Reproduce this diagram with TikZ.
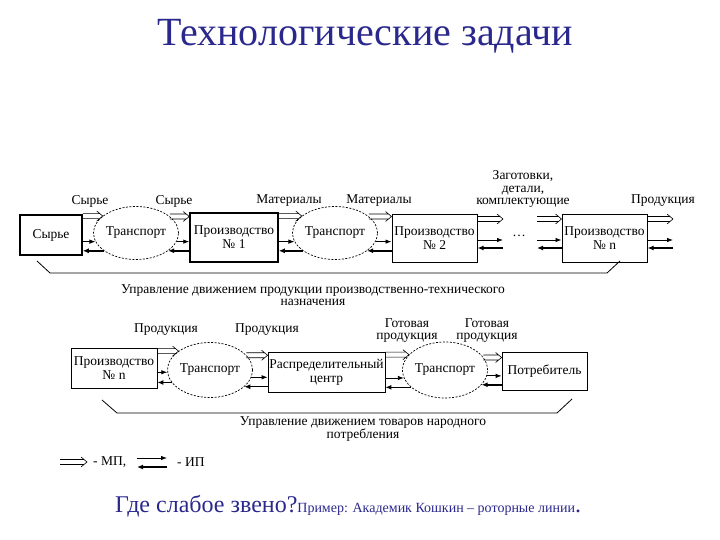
\documentclass[tikz,border=0pt]{standalone}
\usepackage{fontspec}
\setmainfont{Liberation Serif}
\usetikzlibrary{arrows.meta,shapes.geometric}
\definecolor{titleblue}{RGB}{42,40,140}
\tikzset{
  box/.style={draw, line width=0.8pt, align=center, inner sep=1pt, font=\fontsize{13.5}{14}\selectfont},
  tbox/.style={box, line width=1.5pt},
  tr/.style={ellipse, draw, dash pattern=on 2pt off 1.5pt, line width=0.7pt, inner sep=0pt, font=\fontsize{13.5}{14}\selectfont},
  lbl/.style={align=center, inner sep=0pt, font=\fontsize{13.5}{13}\selectfont},
  mp/.style={line width=0.6pt, line join=miter, to path={
     ([yshift=2.5pt]\tikztostart) -- ([yshift=2.5pt,xshift=-3pt]\tikztotarget)
     ([yshift=-2.5pt]\tikztostart) -- ([yshift=-2.5pt,xshift=-3pt]\tikztotarget)
     ([xshift=-6pt,yshift=5pt]\tikztotarget) -- (\tikztotarget) -- ([xshift=-6pt,yshift=-5pt]\tikztotarget)}},
  ipr/.style={line width=0.8pt, -{Latex[length=6pt,width=4.5pt]}},
  ipl/.style={line width=1.5pt, -{Latex[length=6pt,width=5pt]}},
}
\begin{document}
\begin{tikzpicture}[x=1pt,y=-1pt]
\useasboundingbox (0,0) rectangle (720,540);
% title
\node[anchor=base, text=titleblue, font=\fontsize{40}{42}\selectfont, inner sep=0pt] (title) at (365,46) {Технологические задачи};

% ---------- top row ----------
\node[tbox, minimum width=62pt, minimum height=40pt] (s0) at (51,235) {Сырье};
\node[tr, minimum width=66pt, minimum height=53pt] (t1) at (136,233) {Транспорт};
\node[tbox, minimum width=88pt, minimum height=49pt] (p1) at (234,237.5) {Производство\\№ 1};
\node[tr, minimum width=66pt, minimum height=53pt] (t2) at (335,233) {Транспорт};
\node[box, line width=1pt, minimum width=85pt, minimum height=47pt] (p2) at (434.5,238.5) {Производство\\№ 2};
\node[lbl] (dots) at (519,236) {\dots};
\node[box, line width=1pt, minimum width=85pt, minimum height=47pt] (pn) at (604.5,238.5) {Производство\\№ n};

\coordinate (ra) at (0,219);
\coordinate (rb) at (0,240);
\coordinate (rc) at (0,248);
\coordinate (dl) at (503,0);
\coordinate (dr) at (537,0);
\coordinate (out) at (673,0);

% s0 -> t1
\draw[mp] (s0.east |- t1.153.4) to (t1.153.4);
\draw[ipr] (s0.east |- t1.192.4) -- (t1.192.4);
\draw[ipl] (t1.209) -- (s0.east |- t1.209);
% t1 -> p1
\draw[mp] (t1.26.6) to (p1.west |- t1.26.6);
\draw[ipr] (t1.-12.4) -- (p1.west |- t1.-12.4);
\draw[ipl] (p1.west |- t1.-29) -- (t1.-29);
% p1 -> t2
\draw[mp] (p1.east |- t2.153.4) to (t2.153.4);
\draw[ipr] (p1.east |- t2.192.4) -- (t2.192.4);
\draw[ipl] (t2.209) -- (p1.east |- t2.209);
% t2 -> p2
\draw[mp] (t2.26.6) to (p2.west |- t2.26.6);
\draw[ipr] (t2.-12.4) -- (p2.west |- t2.-12.4);
\draw[ipl] (p2.west |- t2.-29) -- (t2.-29);
% p2 -> dots
\draw[mp] (p2.east |- ra) to (dl |- ra);
\draw[ipr] (p2.east |- rb) -- (dl |- rb);
\draw[ipl] (dl |- rc) -- (p2.east |- rc);
% dots -> pn
\draw[mp] (dr |- ra) to (pn.west |- ra);
\draw[ipr] (dr |- rb) -- (pn.west |- rb);
\draw[ipl] (pn.west |- rc) -- (dr |- rc);
% pn -> out
\draw[mp] (pn.east |- ra) to (out |- ra);
\draw[ipr] (pn.east |- rb) -- (out |- rb);
\draw[ipl] (out |- rc) -- (pn.east |- rc);

% top labels
\node[lbl] (l1) at (90,201) {Сырье};
\node[lbl] (l2) at (174,201) {Сырье};
\node[lbl] (l3) at (289,201) {Материалы};
\node[lbl] (l4) at (379,201) {Материалы};
\node[lbl, font=\fontsize{13.5}{12.5}\selectfont] (l5) at (523,189) {Заготовки,\\детали,\\комплектующие};
\node[lbl] (l6) at (663,201) {Продукция};

% top bracket
\draw[line width=0.8pt] (37,261) -- (50,273) -- (607,273) -- (620,261);
\node[lbl, font=\fontsize{13.5}{12}\selectfont] (b1) at (313,295) {Управление движением продукции производственно-технического\\назначения};

% ---------- lower row ----------
\node[box, minimum width=86pt, minimum height=40pt] (q0) at (114,368) {Производство\\№ n};
\node[tr, minimum width=66pt, minimum height=55pt] (u1) at (210,370) {Транспорт};
\node[box, minimum width=117pt, minimum height=40pt] (dc) at (326.5,372) {Распределительный\\центр};
\node[tr, minimum width=70pt, minimum height=56pt] (u2) at (445,370) {Транспорт};
\node[box, minimum width=85pt, minimum height=38pt] (cs) at (544.5,371) {Потребитель};

% q0 -> u1
\draw[mp] (q0.east |- u1.149.2) to (u1.149.2);
\draw[ipr] (q0.east |- u1.183.5) -- (u1.183.5);
\draw[ipl] (u1.198) -- (q0.east |- u1.198);
% u1 -> dc
\draw[mp] (u1.22) to (dc.west |- u1.22);
\draw[ipr] (u1.-10.5) -- (dc.west |- u1.-10.5);
\draw[ipl] (dc.west |- u1.-26.2) -- (u1.-26.2);
% dc -> u2
\draw[mp] (dc.east |- u2.157.3) to (u2.157.3);
\draw[ipr] (dc.east |- u2.191.7) -- (u2.191.7);
\draw[ipl] (u2.207) -- (dc.east |- u2.207);
% u2 -> cs
\draw[mp] (u2.18.9) to (cs.west |- u2.18.9);
\draw[ipr] (u2.-8.3) -- (cs.west |- u2.-8.3);
\draw[ipl] (cs.west |- u2.-22.7) -- (u2.-22.7);

% lower labels
\node[lbl] (m1) at (166,330) {Продукция};
\node[lbl] (m2) at (267,330) {Продукция};
\node[lbl, font=\fontsize{13.5}{12}\selectfont] (m3) at (407,331) {Готовая\\продукция};
\node[lbl, font=\fontsize{13.5}{12}\selectfont] (m4) at (487,331) {Готовая\\продукция};

% lower bracket
\draw[line width=0.8pt] (102,400) -- (117,413) -- (557,413) -- (572,399);
\node[lbl, font=\fontsize{13.5}{12}\selectfont] (b2) at (363,429) {Управление движением товаров народного\\потребления};

% legend
\coordinate (g1) at (60,462);
\coordinate (g2) at (87,462);
\draw[mp] (g1) to (g2);
\node[lbl, anchor=west] (gt1) at (93,462) {- МП,};
\coordinate (h1) at (137,458);
\coordinate (h2) at (167,458);
\coordinate (h3) at (167,467);
\coordinate (h4) at (137,467);
\draw[ipr] (h1) -- (h2);
\draw[ipl] (h3) -- (h4);
\node[lbl, anchor=west] (gt2) at (177,462) {- ИП};

% bottom text
\node[anchor=base west, inner sep=0pt, text=titleblue] (q) at (115,512)
  {{\fontsize{24}{26}\selectfont Где слабое звено?}{\fontsize{14}{15}\selectfont Пример: Академик Кошкин – роторные линии}{\fontsize{24}{26}\selectfont .}};
\end{tikzpicture}
\end{document}
